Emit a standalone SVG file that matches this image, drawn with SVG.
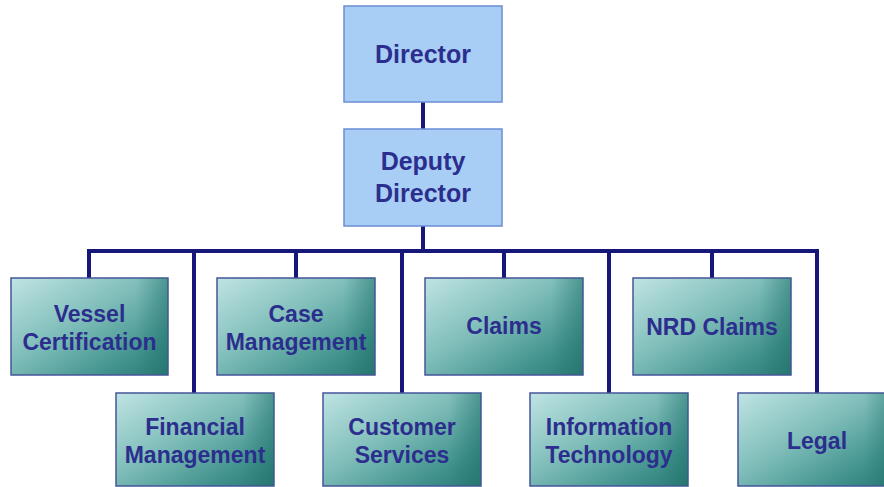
<svg xmlns="http://www.w3.org/2000/svg" width="884" height="487" viewBox="0 0 884 487">
<defs>
<linearGradient id="teal" x1="0" y1="0" x2="1" y2="1">
<stop offset="0" stop-color="#bfe4e3"/>
<stop offset="0.45" stop-color="#7dbcb8"/>
<stop offset="0.8" stop-color="#3f918c"/>
<stop offset="1" stop-color="#2b7a75"/>
</linearGradient>
<linearGradient id="edge" x1="0" y1="0" x2="1" y2="0">
<stop offset="0.8" stop-color="#1f6f6a" stop-opacity="0"/>
<stop offset="1" stop-color="#1f6f6a" stop-opacity="0.45"/>
</linearGradient>
<style>
.top rect{fill:#a9cef5;stroke:#6a8dd6;stroke-width:1.5}
.unit rect.b{fill:url(#teal);stroke:#45559a;stroke-width:1.5}
.unit rect.s{fill:url(#edge)}
text{font-family:"Liberation Sans",Arial,sans-serif;font-weight:bold;fill:#2c2e8e;text-anchor:middle}
.top text{font-size:25px}
.unit text{font-size:23px}
.conn{stroke:#17177a;stroke-width:4;fill:none}
</style>
</defs>
<rect width="884" height="487" fill="#ffffff"/>
<g id="connectors" class="conn">
<line x1="423" y1="102" x2="423" y2="129"/>
<line x1="423" y1="226" x2="423" y2="251"/>
<line x1="87" y1="251" x2="819" y2="251"/>
<line x1="89" y1="251" x2="89" y2="278"/>
<line x1="194" y1="251" x2="194" y2="393"/>
<line x1="296" y1="251" x2="296" y2="278"/>
<line x1="402" y1="251" x2="402" y2="393"/>
<line x1="504" y1="251" x2="504" y2="278"/>
<line x1="609" y1="251" x2="609" y2="393"/>
<line x1="712" y1="251" x2="712" y2="278"/>
<line x1="817" y1="251" x2="817" y2="393"/>
</g>
<g id="director" class="top">
<rect x="344" y="6" width="158" height="96"/>
<text x="423" y="63">Director</text>
</g>
<g id="deputy-director" class="top">
<rect x="344" y="129" width="158" height="97"/>
<text x="423" y="170">Deputy</text>
<text x="423" y="202">Director</text>
</g>
<g id="vessel-certification" class="unit">
<rect class="b" x="11" y="278" width="157" height="97"/>
<rect class="s" x="11" y="278" width="157" height="97"/>
<text x="89.5" y="322">Vessel</text>
<text x="89.5" y="350">Certification</text>
</g>
<g id="case-management" class="unit">
<rect class="b" x="217" y="278" width="158" height="97"/>
<rect class="s" x="217" y="278" width="158" height="97"/>
<text x="296" y="322">Case</text>
<text x="296" y="350">Management</text>
</g>
<g id="claims" class="unit">
<rect class="b" x="425" y="278" width="158" height="97"/>
<rect class="s" x="425" y="278" width="158" height="97"/>
<text x="504" y="334">Claims</text>
</g>
<g id="nrd-claims" class="unit">
<rect class="b" x="633" y="278" width="158" height="97"/>
<rect class="s" x="633" y="278" width="158" height="97"/>
<text x="712" y="335">NRD Claims</text>
</g>
<g id="financial-management" class="unit">
<rect class="b" x="116" y="393" width="158" height="93"/>
<rect class="s" x="116" y="393" width="158" height="93"/>
<text x="195" y="435">Financial</text>
<text x="195" y="463">Management</text>
</g>
<g id="customer-services" class="unit">
<rect class="b" x="323" y="393" width="158" height="93"/>
<rect class="s" x="323" y="393" width="158" height="93"/>
<text x="402" y="435">Customer</text>
<text x="402" y="463">Services</text>
</g>
<g id="information-technology" class="unit">
<rect class="b" x="530" y="393" width="158" height="93"/>
<rect class="s" x="530" y="393" width="158" height="93"/>
<text x="609" y="435">Information</text>
<text x="609" y="463">Technology</text>
</g>
<g id="legal" class="unit">
<rect class="b" x="738" y="393" width="158" height="93"/>
<rect class="s" x="738" y="393" width="158" height="93"/>
<text x="817" y="449">Legal</text>
</g>
</svg>
